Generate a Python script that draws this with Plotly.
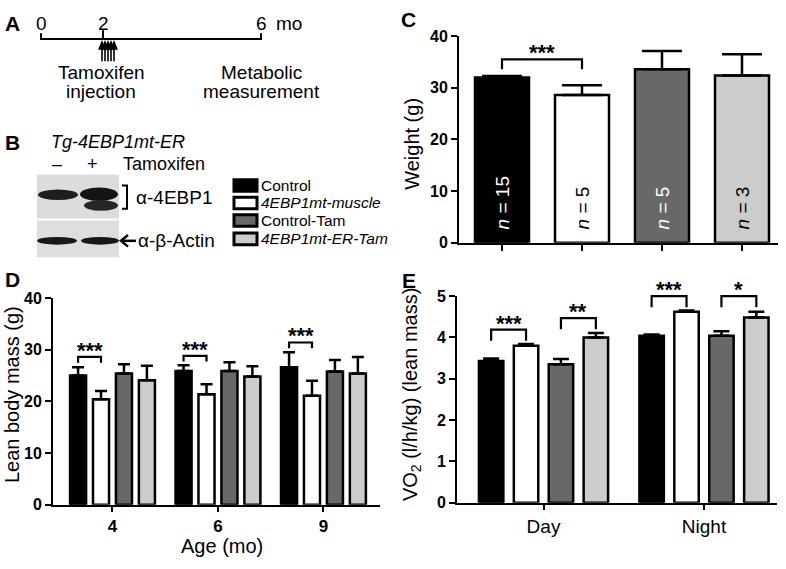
import plotly.graph_objects as go

W, H = 786, 569
FONT = "Liberation Sans, Arial, sans-serif"

# ---------------- data ----------------
groups = ["Control", "4EBP1mt-muscle", "Control-Tam", "4EBP1mt-ER-Tam"]
group_italic = [False, True, False, True]
colors = ["#000000", "#ffffff", "#686868", "#cccccc"]

# Panel C: body weight
weight_mean = [32.0, 28.6, 33.6, 32.4]
weight_err = [0.3, 1.9, 3.5, 4.1]
weight_n = [15, 5, 5, 3]

# Panel D: lean body mass by age
ages = ["4", "6", "9"]
lean_control = [25.0, 25.9, 26.6]
lean_control_err = [1.6, 1.1, 2.9]
lean_muscle = [20.4, 21.4, 21.1]
lean_muscle_err = [1.6, 1.9, 2.9]
lean_ctam = [25.4, 25.9, 25.8]
lean_ctam_err = [1.8, 1.7, 2.2]
lean_ertam = [24.1, 24.8, 25.4]
lean_ertam_err = [2.8, 2.0, 3.2]

# Panel E: VO2
periods = ["Day", "Night"]
vo2_control = [3.43, 4.04]
vo2_control_err = [0.06, 0.03]
vo2_muscle = [3.80, 4.62]
vo2_muscle_err = [0.04, 0.03]
vo2_ctam = [3.35, 4.04]
vo2_ctam_err = [0.13, 0.11]
vo2_ertam = [4.00, 4.48]
vo2_ertam_err = [0.11, 0.14]

# significance brackets: (group, bar_a, bar_b, level, label)
sig_C = [(0, 0, 1, 35.5, "***")]
sig_D = [(0, 0, 1, 28.6, "***"), (1, 0, 1, 28.8, "***"), (2, 0, 1, 31.4, "***")]
sig_E = [(0, 0, 1, 4.19, "***"), (0, 2, 3, 4.47, "**"),
         (1, 0, 1, 5.0, "***"), (1, 2, 3, 5.0, "*")]

lean_sets = [(lean_control, lean_control_err), (lean_muscle, lean_muscle_err),
             (lean_ctam, lean_ctam_err), (lean_ertam, lean_ertam_err)]
vo2_sets = [(vo2_control, vo2_control_err), (vo2_muscle, vo2_muscle_err),
            (vo2_ctam, vo2_ctam_err), (vo2_ertam, vo2_ertam_err)]

# ---------------- layout helpers ----------------
def px(x):
    return x / W

def py(y):
    return 1 - y / H

BARGAP = 0.13
BARGROUPGAP = 0.3
SLOT = (1 - BARGAP) / 4
LINE_W = 2.5

fig = go.Figure()

# Panel C
fig.add_trace(go.Bar(
    x=list(range(len(groups))), y=weight_mean, width=0.675,
    marker=dict(color=colors, line=dict(color="black", width=LINE_W)),
    error_y=dict(type="data", symmetric=False, array=weight_err,
                 arrayminus=[0] * len(groups), color="black",
                 thickness=LINE_W, width=20),
    xaxis="x", yaxis="y", showlegend=False, hoverinfo="skip"))

# Panel D
for gname, col, (vals, errs) in zip(groups, colors, lean_sets):
    fig.add_trace(go.Bar(
        x=list(range(len(ages))), y=vals, name=gname,
        marker=dict(color=col, line=dict(color="black", width=LINE_W)),
        error_y=dict(type="data", symmetric=False, array=errs,
                     arrayminus=[0] * len(errs), color="black",
                     thickness=LINE_W, width=6),
        xaxis="x2", yaxis="y2", showlegend=False, hoverinfo="skip"))

# Panel E
for gname, col, (vals, errs) in zip(groups, colors, vo2_sets):
    fig.add_trace(go.Bar(
        x=list(range(len(periods))), y=vals, name=gname,
        marker=dict(color=col, line=dict(color="black", width=LINE_W)),
        error_y=dict(type="data", symmetric=False, array=errs,
                     arrayminus=[0] * len(errs), color="black",
                     thickness=LINE_W, width=8),
        xaxis="x3", yaxis="y3", showlegend=False, hoverinfo="skip"))

tick_font = dict(family=FONT, size=16, color="black", weight="bold")
axis_common = dict(showline=True, linecolor="black", linewidth=2,
                   ticks="outside", ticklen=6, tickwidth=2, tickcolor="black",
                   showgrid=False, zeroline=False, tickfont=tick_font,
                   fixedrange=True)

fig.update_layout(
    width=W, height=H, autosize=False,
    margin=dict(l=0, r=0, t=0, b=0),
    paper_bgcolor="white", plot_bgcolor="rgba(0,0,0,0)",
    barmode="group", bargap=BARGAP, bargroupgap=BARGROUPGAP,
    font=dict(family=FONT, color="black"),
    xaxis=dict(axis_common, domain=[px(459), px(778)], range=[-0.5375, 3.45],
               tickvals=list(range(len(groups))), showticklabels=False, anchor="y"),
    yaxis=dict(axis_common, domain=[py(242), py(29)], range=[0, 40],
               tickvals=[0, 10, 20, 30, 40], anchor="x"),
    xaxis2=dict(axis_common, domain=[px(53), px(380)], range=[-0.564, 2.536],
                tickvals=list(range(len(ages))), ticktext=ages, ticklen=5,
                tickfont=dict(family=FONT, size=17, color="black", weight="bold"),
                anchor="y2"),
    yaxis2=dict(axis_common, domain=[py(512), py(299)], range=[0, 40],
                tickvals=[0, 10, 20, 30, 40], anchor="x2"),
    xaxis3=dict(axis_common, domain=[px(457), px(777)], range=[-0.539, 1.455],
                tickvals=list(range(len(periods))), ticktext=periods, ticklen=5,
                tickfont=dict(family=FONT, size=19, color="black"),
                anchor="y3"),
    yaxis3=dict(axis_common, domain=[py(510), py(297)], range=[0, 5],
                tickvals=[0, 1, 2, 3, 4, 5], anchor="x3"),
)

shapes = []
annots = []

def text(x, y, s, size=17, xanchor="center", yanchor="middle", bold=False,
         italic=False, angle=0, color="black", xref="paper", yref="paper", **kw):
    annots.append(dict(
        x=x, y=y, xref=xref, yref=yref, text=s, showarrow=False,
        xanchor=xanchor, yanchor=yanchor, textangle=angle, borderpad=0,
        font=dict(family=FONT, size=size, color=color,
                  weight="bold" if bold else "normal",
                  style="italic" if italic else "normal"), **kw))

# ---------------- significance brackets ----------------
def brackets(sigs, xref, yref, ymax, drop, grouped, star_size=22):
    for g, a, b, level, lab in sigs:
        if grouped:
            xa = g + (a - 1.5) * SLOT
            xb = g + (b - 1.5) * SLOT
        else:
            xa, xb = a, b
        top = level / ymax
        bot = (level - drop) / ymax
        shapes.append(dict(type="path", xref=xref, yref=yref + " domain",
                           path=f"M {xa},{bot} L {xa},{top} L {xb},{top} L {xb},{bot}",
                           line=dict(color="black", width=2.2)))
        text((xa + xb) / 2, top, lab, size=star_size, bold=True,
             yanchor="bottom", xref=xref, yref=yref + " domain", yshift=-7)

brackets(sig_C, "x", "y", 40, 1.9, False)
brackets(sig_D, "x2", "y2", 40, 1.1, True)
brackets(sig_E, "x3", "y3", 5, 0.27, True)

# n labels inside bars (panel C)
for i, n in enumerate(weight_n):
    text(i, 2.3, f"<i>n</i> = {n}", size=19, angle=-90, yanchor="bottom",
         color="white" if colors[i] in ("#000000", "#686868") else "black",
         xref="x", yref="y")

# ---------------- axis titles ----------------
text(px(412), py(140), "Weight (g)", size=20, angle=-90)
text(px(12), py(399), "Lean body mass (g)", size=20, angle=-90)
text(px(222), py(555), "Age (mo)", size=20)
text(px(411), py(399), "VO<sub>2</sub> (l/h/kg) (lean mass)", size=20, angle=-90)

# ---------------- panel letters ----------------
for letter, (lx, ly) in {"A": (13, 16), "B": (13, 139), "C": (409, 12),
                         "D": (13, 280), "E": (409, 281)}.items():
    text(px(lx), py(ly), letter, size=21, bold=True)

# ---------------- panel A: timeline ----------------
def seg(x0, y0, x1, y1, w=2):
    shapes.append(dict(type="line", xref="paper", yref="paper",
                       x0=px(x0), y0=py(y0), x1=px(x1), y1=py(y1),
                       line=dict(color="black", width=w)))

def poly(pts, fill="black", lw=0, closed=True):
    d = "M " + " L ".join(f"{px(a)},{py(b)}" for a, b in pts) + (" Z" if closed else "")
    shapes.append(dict(type="path", xref="paper", yref="paper", path=d,
                       fillcolor=fill if closed else None,
                       line=dict(color="black", width=lw)))

seg(41, 32, 261, 32)
seg(41, 26, 41, 33)
seg(261, 26, 261, 33)
seg(103, 23, 103, 32)
text(px(41), py(16), "0", size=19)
text(px(103), py(16), "2", size=19)
text(px(261), py(16), "6", size=19)
text(px(289), py(16), "mo", size=19)
for ax_x in [102, 105, 108, 111, 114]:
    seg(ax_x, 55, ax_x, 40, w=1.6)
    poly([(ax_x - 4, 43), (ax_x, 33), (ax_x + 4, 43)])
text(px(101), py(67), "Tamoxifen", size=19)
text(px(101), py(86), "injection", size=19)
text(px(261), py(67), "Metabolic", size=19)
text(px(261), py(86), "measurement", size=19)

# ---------------- panel B: blot ----------------
text(px(50), py(138), "Tg-4EBP1mt-ER", size=18, italic=True, xanchor="left")
text(px(57), py(161), "\u2013", size=18)
text(px(92), py(161), "+", size=18)
text(px(122), py(161), "Tamoxifen", size=18, xanchor="left")

def rect(x0, y0, x1, y1, fill, lw=0, lc="black", kind="rect"):
    shapes.append(dict(type=kind, xref="paper", yref="paper",
                       x0=px(x0), y0=py(y1), x1=px(x1), y1=py(y0),
                       fillcolor=fill, line=dict(color=lc, width=lw)))

rect(37, 172, 119, 217, "#dcdcdc")
rect(37, 219, 119, 257, "#dedede")
rect(38, 187, 78, 198, "#1e1e1e", kind="circle")
rect(80, 185, 118, 199, "#141414", kind="circle")
rect(84, 198, 118, 209, "#262626", kind="circle")
rect(37, 236, 77, 244, "#181818", kind="circle")
rect(81, 236, 119, 244, "#181818", kind="circle")
poly([(122, 183), (127, 183), (127, 207), (122, 207)], lw=2, closed=False)
text(px(135), py(195), "\u03b1-4EBP1", size=19, xanchor="left")
seg(121, 240, 136, 240, w=2.5)
poly([(128, 234), (121, 240), (128, 246)], lw=2.5, closed=False)
text(px(137), py(240), "\u03b1-\u03b2-Actin", size=19, xanchor="left")

# ---------------- legend (panel B) ----------------
legend_rows = [183, 201, 219, 238]
for gname, col, it, ry in zip(groups, colors, group_italic, legend_rows):
    rect(234, ry - 6, 257, ry + 6, col, lw=3)
    text(px(260), py(ry), gname, size=15.5, italic=it, xanchor="left")

fig.update_layout(shapes=shapes, annotations=annots)
fig.write_html("out.html", config={"displayModeBar": False, "staticPlot": True},
               post_script="document.body.style.margin='0';")
